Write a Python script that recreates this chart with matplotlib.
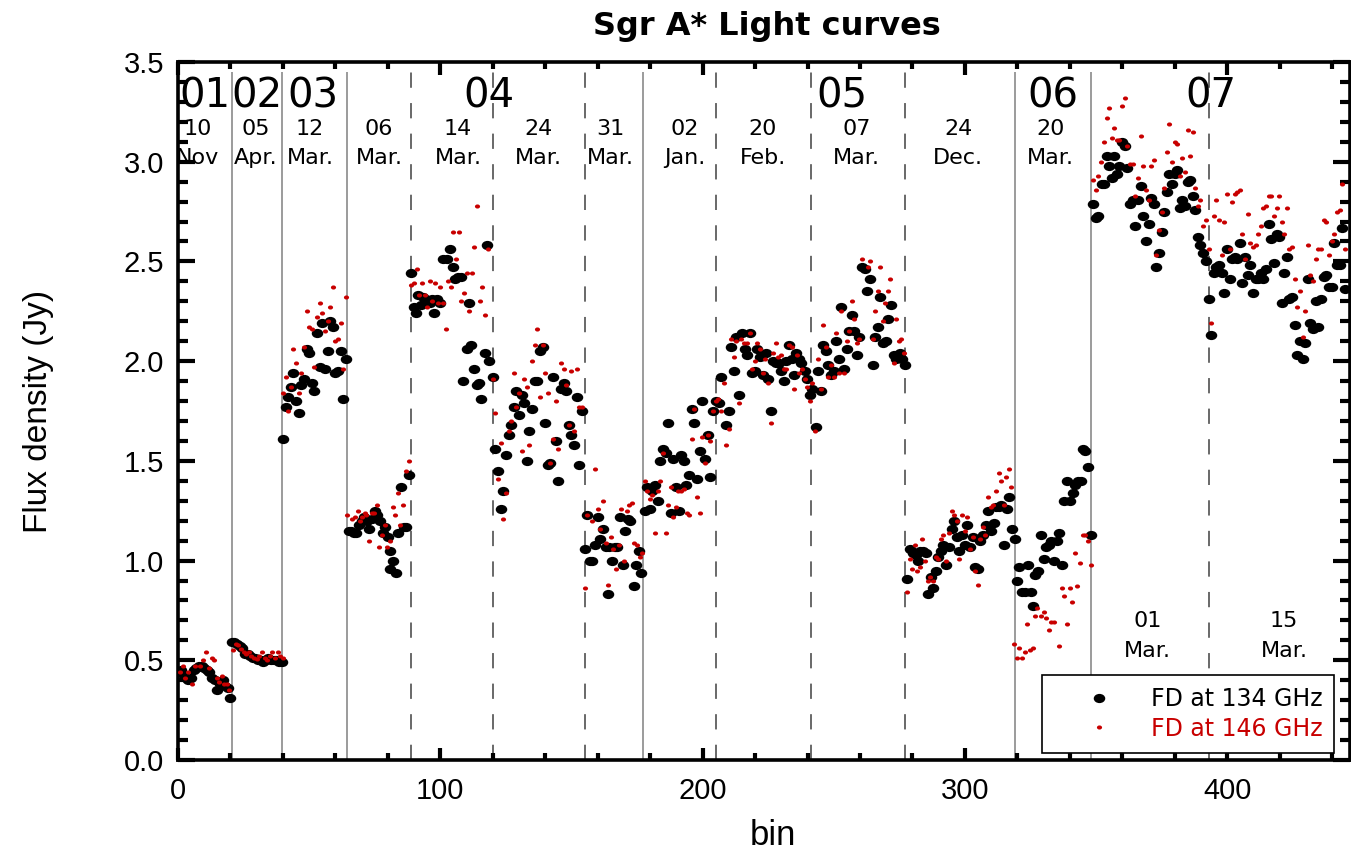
import matplotlib
matplotlib.use("Agg")
import matplotlib.pyplot as plt
from matplotlib.path import Path
from matplotlib.transforms import Affine2D
from matplotlib.ticker import MultipleLocator, FormatStrFormatter

# ---------------- data ----------------
bin_134 = [
    1, 2, 3, 4, 5, 6, 7, 8, 9, 10, 11, 12, 13, 14, 15, 16, 17, 18, 19, 20,
    20.5, 21.5, 22.5, 23.5, 24.5, 25.5, 26.5, 27.5, 28.5, 29.5, 30.5, 31.5, 32.5, 33.5, 34.5, 35.5, 36.5, 37.5, 38.5, 39.5,
    40, 41, 42, 43, 44, 45, 46, 47, 48, 49, 50, 51, 52, 53, 54, 55, 56, 57, 58, 59, 60, 61, 62, 63, 64,
    65, 66, 67, 68, 69, 70, 71, 72, 73, 74, 75, 76, 77, 78, 79, 80, 81, 81, 82, 83, 84, 85, 86, 87, 88,
    89, 90, 90.7, 91.5, 92.5, 93.5, 94, 95, 96, 97, 97.6, 98.8, 100, 101, 102.4, 103.6, 104.9, 105.5, 106.8, 108,
    108.7, 110, 110.9, 111.6, 112.7, 114, 114.8, 115.7, 116.9, 117.9, 118.6, 119.9,
    121, 122, 123, 124, 125, 126, 127, 128, 129, 130, 131, 132, 133, 134, 135, 136, 137, 138, 139, 140,
    141, 142, 143, 144, 145, 146, 147, 148, 149, 150, 151, 152, 153, 154,
    155, 156, 157, 158, 159, 160, 161, 162, 163, 163.8, 164.5, 165.5, 166.5, 167.5, 168.5, 169.5, 170.5, 171.5,
    172.5, 173.8, 174.7, 175.8, 176.6,
    178, 178.9, 179.8, 180.8, 181.7, 183, 183.9, 184.9, 185.9, 186.9,
    187.8, 188.7, 189.7, 191, 191.9, 192.8, 193.8, 194.8, 195.8, 196.8,
    197.8, 198.9, 199.9, 200.9, 201.9, 202.8, 204, 205, 206.1, 207.1,
    208.9, 209.9, 210.8, 211.9, 212.8, 213.8, 215, 216, 216.9, 217.9,
    218.9, 219.9, 220.8, 222, 223, 224, 224.9, 225.9, 226.8, 227.8,
    229.1, 230, 230.9, 231.9, 232.9, 233.9, 234.8, 235.7, 236.7, 237.6,
    238.9, 239.9, 240.8, 241.8, 243.1, 244.1, 245.3, 245.9, 246.9, 247.9,
    248.9, 250.1, 251, 251.9, 252.9, 253.9, 254.9, 255.8, 256.8, 257.8,
    258.8, 259.8, 260.8, 261.8, 262.8, 263.8, 264.8, 265.8, 266.8, 267.7,
    268.8, 269.8, 270.8, 271.8, 272.8, 273.8, 275.2, 276.1, 277,
    277.9, 278.9, 280.2, 281.2, 282.1, 283, 284, 285, 285.9, 286.9,
    287.9, 288.9, 289.9, 290.9, 291.8, 292.8, 293.8, 294.9, 295.9, 296.9,
    297.9, 298.9, 299.9, 300.9, 301.9, 302.9, 303.9, 304.9, 305.9, 306.9,
    307.9, 308.9, 309.9, 310.9, 311.8, 312.8, 313.9, 314.9, 315.9, 316.9, 317.9, 318.9,
    319.9, 320.8, 321.8, 322.8, 324, 325, 325.9, 326.9, 327.9, 329,
    330, 331, 332, 333, 334, 335, 336, 337, 337.9, 338.9,
    340, 341.1, 342.1, 343.1, 344.1, 344.9, 345.9, 346.9, 347.9,
    348.9, 349.9, 350.9, 352.3, 353.2, 354, 354.9, 356, 357, 358,
    358.9, 359.9, 360.9, 361.9, 363, 364, 365, 366, 367, 368,
    369, 370, 371, 372, 373, 374, 375, 375.9, 376.9, 377.9,
    378.9, 379.9, 380.9, 381.9, 382.9, 383.9, 384.9, 385.9, 386.9, 387.9,
    388.9, 389.8, 390.8, 391.9, 392.9, 393.9,
    394.9, 395.9, 396.9, 397.9, 398.9, 399.9, 400.9, 401.9, 402.9, 403.9,
    404.9, 405.8, 406.8, 407.8, 408.8, 409.8, 410.8, 411.8, 412.8, 413.8,
    414.7, 415.8, 416.8, 417.8, 418.8, 419.8, 420.8, 421.8, 422.8, 423.7,
    424.7, 425.8, 426.7, 427.7, 428.7, 429.7, 430.7, 431.7, 432.7, 433.7,
    434.7, 435.8, 436.8, 437.8, 438.8, 439.8, 440.8, 441.8, 442.8, 443.8, 444.8,
]
flux_134 = [
    0.45, 0.43, 0.41, 0.40, 0.41, 0.45, 0.46, 0.47, 0.47, 0.46, 0.45, 0.44, 0.41, 0.40, 0.35, 0.38, 0.40, 0.37, 0.36, 0.31,
    0.59, 0.59, 0.58, 0.57, 0.56, 0.53, 0.53, 0.52, 0.51, 0.51, 0.50, 0.50, 0.49, 0.50, 0.51, 0.50, 0.50, 0.50, 0.49, 0.49,
    1.61, 1.77, 1.82, 1.87, 1.94, 1.80, 1.74, 1.88, 1.91, 2.06, 2.04, 1.89, 1.85, 2.14, 1.97, 2.19, 1.96, 2.05, 2.20, 2.17,
    1.94, 1.95, 2.05, 1.81, 2.01,
    1.15, 1.15, 1.14, 1.14, 1.18, 1.20, 1.22, 1.20, 1.16, 1.21, 1.25, 1.23, 1.20, 1.14, 1.17, 1.12, 1.05, 0.96, 1.00, 0.94,
    1.14, 1.37, 1.17, 1.17, 1.43,
    2.44, 2.27, 2.24, 2.33, 2.28, 2.32, 2.31, 2.30, 2.29, 2.31, 2.24, 2.31, 2.29, 2.51, 2.51, 2.56, 2.47, 2.41, 2.42, 2.42,
    1.90, 2.06, 2.29, 2.08, 1.96, 1.88, 1.89, 1.81, 2.04, 2.58, 2.00, 1.92,
    1.56, 1.45, 1.26, 1.35, 1.53, 1.63, 1.68, 1.77, 1.85, 1.73, 1.83, 1.79, 1.50, 1.65, 1.76, 1.90, 1.90, 2.05, 2.07, 1.69,
    1.48, 1.49, 1.92, 1.60, 1.40, 1.86, 1.89, 1.85, 1.68, 1.63, 1.58, 1.82, 1.48, 1.75,
    1.06, 1.23, 1.00, 1.00, 1.08, 1.22, 1.11, 1.16, 1.07, 0.83, 1.07, 1.00, 1.07, 1.07, 1.22, 0.98, 1.15, 1.21,
    1.20, 0.87, 0.98, 1.05, 0.94,
    1.25, 1.37, 1.26, 1.35, 1.38, 1.30, 1.50, 1.56, 1.54, 1.69,
    1.24, 1.51, 1.37, 1.25, 1.53, 1.50, 1.38, 1.43, 1.76, 1.69,
    1.41, 1.55, 1.80, 1.51, 1.63, 1.42, 1.75, 1.80, 1.79, 1.92,
    1.68, 1.75, 2.07, 1.95, 2.12, 1.83, 2.14, 2.06, 2.03, 2.14,
    1.94, 1.95, 2.06, 2.02, 1.93, 2.04, 1.91, 1.75, 2.00, 1.99,
    1.99, 1.95, 1.90, 2.00, 2.08, 2.01, 1.93, 2.04, 2.01, 1.99,
    1.95, 1.91, 1.83, 1.86, 1.67, 1.95, 1.85, 2.08, 2.05, 1.98,
    1.93, 1.95, 2.10, 2.01, 2.27, 1.96, 2.06, 2.15, 2.23, 2.15,
    2.03, 2.12, 2.47, 2.46, 2.35, 2.41, 1.98, 2.12, 2.17, 2.32,
    2.09, 2.10, 2.21, 2.28, 2.03, 2.01, 2.04, 2.01, 1.98,
    0.91, 1.06, 1.04, 1.03, 1.00, 1.05, 1.05, 1.04, 0.83, 0.92,
    0.86, 0.95, 1.02, 1.05, 1.08, 0.98, 1.07, 1.16, 1.20, 1.12,
    1.05, 1.13, 1.08, 1.18, 1.07, 1.12, 0.97, 0.96, 1.10, 1.13,
    1.18, 1.25, 1.15, 1.19, 1.27, 1.27, 1.28, 1.08, 1.26, 1.32, 1.16, 1.11,
    0.90, 0.97, 0.84, 0.84, 0.98, 0.84, 0.77, 0.93, 0.95, 1.13,
    1.01, 1.07, 1.08, 1.10, 1.00, 1.10, 1.14, 0.98, 1.30, 1.40,
    1.30, 1.34, 1.38, 1.40, 1.40, 1.56, 1.55, 1.47, 1.13,
    2.79, 2.72, 2.73, 2.89, 2.89, 3.03, 2.98, 2.92, 3.03, 2.94,
    2.98, 3.10, 3.08, 2.97, 2.79, 2.81, 2.68, 2.81, 2.88, 2.73,
    2.60, 2.69, 2.82, 2.79, 2.47, 2.54, 2.65, 2.75, 2.85, 2.94,
    2.89, 2.94, 2.96, 2.77, 2.81, 2.78, 2.90, 2.91, 2.83, 2.76,
    2.62, 2.58, 2.54, 2.50, 2.31, 2.13,
    2.44, 2.47, 2.48, 2.44, 2.34, 2.56, 2.41, 2.51, 2.52, 2.51,
    2.59, 2.39, 2.52, 2.43, 2.48, 2.34, 2.41, 2.41, 2.44, 2.41,
    2.46, 2.69, 2.61, 2.49, 2.64, 2.62, 2.29, 2.44, 2.52, 2.31,
    2.32, 2.18, 2.03, 2.10, 2.01, 2.09, 2.41, 2.19, 2.16, 2.30,
    2.17, 2.31, 2.42, 2.43, 2.37, 2.37, 2.59, 2.48, 2.48, 2.67, 2.36,
]

bin_146 = [
    0.8, 1.8, 2.7, 3.9, 5.2, 6.5, 8.4, 9.7, 10.7, 11.9, 12.8, 13.8, 14.7, 15.7, 16.6, 17.6, 18.5, 19.6,
    21, 22, 23, 24, 25, 26, 27, 28, 29, 30, 31, 32, 33, 34, 35, 36, 37, 38, 39, 40,
    40, 41, 42, 43, 44, 45, 46, 47, 48, 49, 50, 51, 52, 53, 54, 55, 56, 57, 58, 59, 60, 61, 62, 63, 64,
    64.5, 66.5, 67.5, 68.7, 69.3, 70, 71.2, 71.8, 72.9, 73.8, 74.8, 75.7, 76.7, 77.7, 78.8, 79.7, 80.8, 81.8,
    82.8, 83.7, 84.7, 85.7, 86.9, 87.9,
    89, 90, 91, 92, 93, 94, 95, 96, 97, 98, 99, 100, 101, 102, 103, 104, 105, 106, 107, 108,
    109, 110, 111, 112, 113, 114, 115, 116, 117, 118, 120,
    121, 122, 123, 124, 125, 126, 127, 128, 129, 130, 131, 132, 133, 134, 135, 136, 137, 138, 139, 140,
    141, 142, 143, 144, 145, 146, 147, 148, 149, 150, 151, 152, 153, 154,
    155, 156, 158, 159, 160, 161, 162, 163, 164, 165, 166, 167, 168, 169, 170, 171, 172, 173, 174, 175, 176, 177,
    178, 178.9, 179.8, 180.8, 181.7, 183, 183.9, 184.9, 185.9, 186.9,
    187.8, 188.8, 189.8, 190.8, 191.9, 192.8, 193.9, 194.8, 195.8, 196.8,
    197.8, 198.9, 199.9, 200.9, 201.9, 202.9, 204, 205, 206, 207,
    208, 209, 210, 211, 212, 212.8, 213.8, 214.8, 215.9, 216.9,
    217.9, 218.9, 219.9, 220.9, 221.7, 222.9, 223.8, 224.9, 225.9, 226.9,
    227.9, 228.9, 229.9, 230.9, 231.9, 232.9, 233.9, 234.9, 235.9, 236.9,
    237.8, 238.9, 239.9, 240.9, 241.8, 243, 244.1, 245, 245.9, 246.9,
    247.9, 248.9, 249.9, 250.9, 251.9, 252.9, 253.9, 254.9, 255.9, 256.9,
    257.9, 258.9, 259.8, 260.8, 262.9, 263.9, 264.8, 265.8, 266.7, 267.7,
    268.7, 269.7, 270.7, 271.6, 272.8, 273.7, 274.8, 275.6, 276.8,
    277.9, 279, 279.8, 280.8, 281.8, 282.8, 283.8, 284.8, 285.8, 286.8,
    287.8, 288.9, 289.9, 290.9, 291.8, 292.8, 293.8, 294.9, 295.9, 296.9,
    297.9, 298.9, 299.9, 300.9, 301.9, 302.9, 303.9, 304.9, 305.8, 306.8,
    307.8, 308.8, 309.8, 310.8, 311.8, 312.8, 313.8, 314.8, 315.8, 316.7, 317.7,
    318.8, 319.9, 320.8, 321.8, 322.8, 323.8, 324.8, 325.8, 326.6, 327.6,
    328.9, 330, 331, 332, 333, 334, 336, 336.9, 337.9, 338.9,
    339.9, 340.9, 341.9, 342.9, 343.7, 344.9, 345.9, 346.9, 347.9,
    348.9, 349.9, 350.9, 351.9, 352.9, 354, 354.9, 355.9, 356.9, 357.8,
    358.9, 359.9, 360.9, 361.9, 362.9, 363.9, 365, 366, 367, 368,
    369, 370, 371, 372, 373, 374, 375, 375.9, 376.9, 377.9,
    378.9, 379.9, 380.9, 381.9, 382.9, 383.9, 384.9, 385.9, 386.9, 387.8,
    388.8, 389.8, 390.8, 391.9, 392.9, 393.8,
    394.9, 395.9, 396.9, 397.9, 398.9, 399.9, 400.9, 401.9, 402.9, 403.9,
    404.9, 405.8, 406.8, 407.8, 408.8, 409.8, 410.8, 411.8, 412.8, 413.8,
    414.7, 415.8, 416.8, 417.8, 418.8, 419.8, 420.8, 421.8, 422.8, 423.7,
    424.7, 425.8, 426.7, 427.7, 428.7, 429.7, 430.7, 431.7, 432.7, 433.7,
    434.7, 435.8, 436.8, 437.8, 438.8, 439.8, 440.8, 441.8, 442.8, 443.8, 444.8,
]
flux_146 = [
    0.44, 0.47, 0.41, 0.44, 0.38, 0.47, 0.47, 0.50, 0.54, 0.46, 0.51, 0.50, 0.41, 0.39, 0.42, 0.38, 0.38, 0.35,
    0.55, 0.58, 0.575, 0.555, 0.54, 0.533, 0.54, 0.52, 0.51, 0.506, 0.52, 0.54, 0.51, 0.50, 0.52, 0.54, 0.51, 0.54, 0.52, 0.51,
    1.84, 1.92, 1.75, 1.87, 2.06, 1.99, 1.84, 1.94, 2.07, 2.25, 2.17, 2.16, 1.97, 2.22, 2.29, 2.24, 2.15, 2.20, 2.27, 2.37,
    2.10, 2.11, 2.19, 1.96, 2.32,
    1.23, 1.21, 1.22, 1.25, 1.20, 1.22, 1.24, 1.23, 1.10, 1.24, 1.24, 1.28, 1.07, 1.13, 1.18, 1.07, 1.10, 1.27,
    1.23, 1.34, 1.18, 1.28, 1.45, 1.50,
    2.38, 2.39, 2.46, 2.33, 2.39, 2.33, 2.27, 2.40, 2.30, 2.39, 2.29, 2.37, 2.29, 2.16, 2.40, 2.37, 2.65, 2.51, 2.65, 2.30,
    2.34, 2.44, 2.25, 2.44, 2.57, 2.78, 2.30, 2.37, 2.23, 2.56, 1.91,
    1.74, 1.41, 1.59, 1.21, 1.34, 1.65, 1.70, 1.94, 1.77, 1.84, 1.55, 1.91, 1.87, 1.58, 2.00, 2.08, 2.16, 1.82, 2.08, 1.94,
    1.84, 1.49, 1.61, 1.80, 1.56, 1.99, 1.96, 1.88, 1.68, 1.95, 1.65, 1.96, 1.77, 1.77,
    0.86, 1.23, 1.20, 1.46, 1.26, 1.16, 1.30, 1.09, 0.88, 1.12, 1.06, 0.96, 1.08, 1.26, 1.00, 1.25, 1.28, 1.29, 1.09, 1.08, 1.02, 1.04,
    1.40, 1.35, 1.31, 1.33, 1.14, 1.35, 1.40, 1.54, 1.14, 1.28,
    1.37, 1.22, 1.27, 1.35, 1.35, 1.36, 1.24, 1.23, 1.61, 1.76,
    1.32, 1.24, 1.62, 1.49, 1.63, 1.60, 1.75, 1.80, 1.81, 1.75,
    1.89, 1.58, 1.66, 2.11, 2.02, 2.10, 1.79, 2.11, 2.09, 2.09,
    2.14, 1.96, 2.00, 2.09, 2.06, 1.94, 2.01, 1.89, 1.69, 2.04,
    2.09, 2.02, 2.03, 1.96, 1.96, 2.08, 2.07, 1.86, 2.03, 1.94,
    1.96, 1.91, 1.87, 1.80, 1.89, 1.65, 2.01, 1.86, 2.18, 2.07,
    1.92, 1.98, 1.92, 2.14, 1.94, 2.25, 1.94, 2.10, 2.15, 2.30,
    2.21, 2.09, 2.11, 2.51, 2.47, 2.50, 2.11, 2.25, 2.35, 2.47,
    2.20, 2.29, 2.35, 2.41, 1.99, 2.21, 2.10, 2.11, 2.04,
    0.84, 1.01, 0.96, 1.08, 0.95, 0.97, 1.11, 1.00, 0.90, 0.92,
    0.90, 1.02, 1.01, 1.11, 1.13, 1.00, 1.14, 1.25, 1.23, 1.20,
    1.01, 1.23, 1.15, 1.22, 1.06, 1.12, 0.95, 0.88, 1.11, 1.17,
    1.13, 1.32, 1.27, 1.28, 1.35, 1.44, 1.40, 1.28, 1.42, 1.46, 1.37,
    0.58, 0.51, 0.56, 0.51, 0.54, 0.68, 0.55, 0.56, 0.72, 0.76,
    0.72, 0.74, 0.71, 0.65, 0.69, 0.69, 0.57, 0.86, 0.82, 0.68,
    0.86, 0.79, 1.04, 0.87, 0.99, 1.13, 1.13, 1.10, 0.98,
    2.91, 2.86, 2.93, 3.00, 3.10, 3.22, 3.27, 3.12, 3.17, 3.11,
    3.11, 3.28, 3.32, 3.08, 2.99, 2.99, 2.83, 2.92, 3.13, 2.98,
    2.86, 2.81, 2.98, 3.01, 2.53, 2.66, 2.75, 2.87, 3.05, 3.19,
    3.00, 3.10, 3.09, 2.93, 3.02, 2.95, 3.16, 3.03, 3.15, 2.87,
    2.78, 2.81, 2.68, 2.71, 2.56, 2.19,
    2.73, 2.81, 2.71, 2.53, 2.70, 2.84, 2.56, 2.80, 2.84, 2.85,
    2.86, 2.64, 2.51, 2.74, 2.59, 2.57, 2.58, 2.64, 2.68, 2.77,
    2.78, 2.83, 2.83, 2.73, 2.77, 2.83, 2.70, 2.64, 2.77, 2.56,
    2.57, 2.41, 2.27, 2.35, 2.12, 2.25, 2.58, 2.43, 2.40, 2.51,
    2.56, 2.56, 2.71, 2.70, 2.53, 2.60, 2.64, 2.75, 2.76, 2.89, 2.56,
]

# night boundaries (bin)
year_bounds = [20.5, 39.7, 64.6, 177.3, 319.0, 348.2]
night_bounds = [89.0, 120.1, 155.0, 205.2, 241.4, 277.1, 393.1]

year_labels = ["01", "02", "03", "04", "05", "06", "07"]
year_pos = [10.3, 30.1, 51.6, 118.5, 253.3, 333.7, 393.9]

day_labels = ["10", "05", "12", "06", "14", "24", "31", "02", "20", "07", "24", "20", "01", "15"]
month_labels = ["Nov", "Apr.", "Mar.", "Mar.", "Mar.", "Mar.", "Mar.", "Jan.", "Feb.", "Mar.", "Dec.", "Mar.", "Mar.", "Mar."]
date_pos = [7.6, 29.7, 50.3, 76.6, 106.7, 137.5, 165.0, 193.1, 222.9, 258.7, 297.5, 332.6, 369.5, 421.7]
date_low = [False] * 12 + [True, True]

RED = "#c80000"
NARROW = ["Liberation Sans", "DejaVu Sans"]

# ---------------- figure ----------------
W, H = 1351, 856
fig = plt.figure(figsize=(W / 100, H / 100), dpi=100)
L, R, T, B = 178, 1350, 62, 760
ax = fig.add_axes([L / W, (H - B) / H, (R - L) / W, (B - T) / H])

ax.vlines(year_bounds, 0, 3.45, colors="#808080", lw=1.1, zorder=1)
ax.vlines(night_bounds, 0, 3.45, colors="#404040", lw=1.1, linestyles=(0, (10, 10)), zorder=1)

ellipse = Path.unit_circle().transformed(Affine2D().scale(1.25, 1.0))
ax.plot(bin_134, flux_134, ls="none", marker=ellipse, ms=8.3, color="black",
        mew=0, label="FD at 134 GHz", zorder=3)
ax.plot(bin_146, flux_146, ls="none", marker=ellipse, ms=3.7, color=RED,
        mew=0, label="FD at 146 GHz", zorder=4)

ax.set_xlim(0, 446.8)
ax.set_ylim(0, 3.5)
ax.xaxis.set_major_locator(MultipleLocator(100))
ax.xaxis.set_minor_locator(MultipleLocator(20))
ax.yaxis.set_major_locator(MultipleLocator(0.5))
ax.yaxis.set_minor_locator(MultipleLocator(0.1))
ax.yaxis.set_major_formatter(FormatStrFormatter("%.1f"))

ax.tick_params(which="both", direction="in", top=True, right=True, width=3, color="black")
ax.tick_params(axis="x", which="major", length=9, pad=12)
ax.tick_params(axis="x", which="minor", length=5)
ax.tick_params(axis="y", which="major", length=12.5, pad=10)
ax.tick_params(axis="y", which="minor", length=7)
for lab in ax.get_xticklabels() + ax.get_yticklabels():
    lab.set_fontfamily(NARROW)
    lab.set_fontsize(21)
for s in ax.spines.values():
    s.set_linewidth(2.6)

ax.set_xlabel("bin", fontsize=25, family=NARROW)
ax.set_ylabel("Flux density (Jy)", fontsize=24, family=NARROW)
ax.xaxis.set_label_coords((773 - L) / (R - L), -(819 - B) / (B - T))
ax.yaxis.set_label_coords(-(L - 54) / (R - L), 0.5)

fig.text(767 / W, 1 - 26 / H, "Sgr A* Light curves", ha="center", va="center",
         fontsize=23, fontweight="bold", family="DejaVu Sans")

def ypix(p):
    return (B - p) / (B - T) * 3.5

for lab, x in zip(year_labels, year_pos):
    ax.text(x, ypix(96), lab, ha="center", va="center", fontsize=29, family="DejaVu Sans", zorder=5)
for d, m, x, low in zip(day_labels, month_labels, date_pos, date_low):
    y1, y2 = (621, 651) if low else (129, 158)
    ax.text(x, ypix(y1), d, ha="center", va="center", fontsize=16, family="DejaVu Sans", zorder=5)
    ax.text(x, ypix(y2), m, ha="center", va="center", fontsize=16, family="DejaVu Sans", zorder=5)

leg = ax.legend(loc="upper left", bbox_to_anchor=((1042 - L) / (R - L), (B - 675) / (B - T)),
                borderaxespad=0, frameon=True, fancybox=False, edgecolor="black",
                framealpha=1, fontsize=17, borderpad=0.5, handlelength=3.8,
                handletextpad=0.3, labelspacing=0.25, numpoints=1)
leg.get_frame().set_linewidth(1.2)
leg.get_texts()[1].set_color(RED)
leg.set_zorder(6)

fig.savefig("out.png", dpi=100)
